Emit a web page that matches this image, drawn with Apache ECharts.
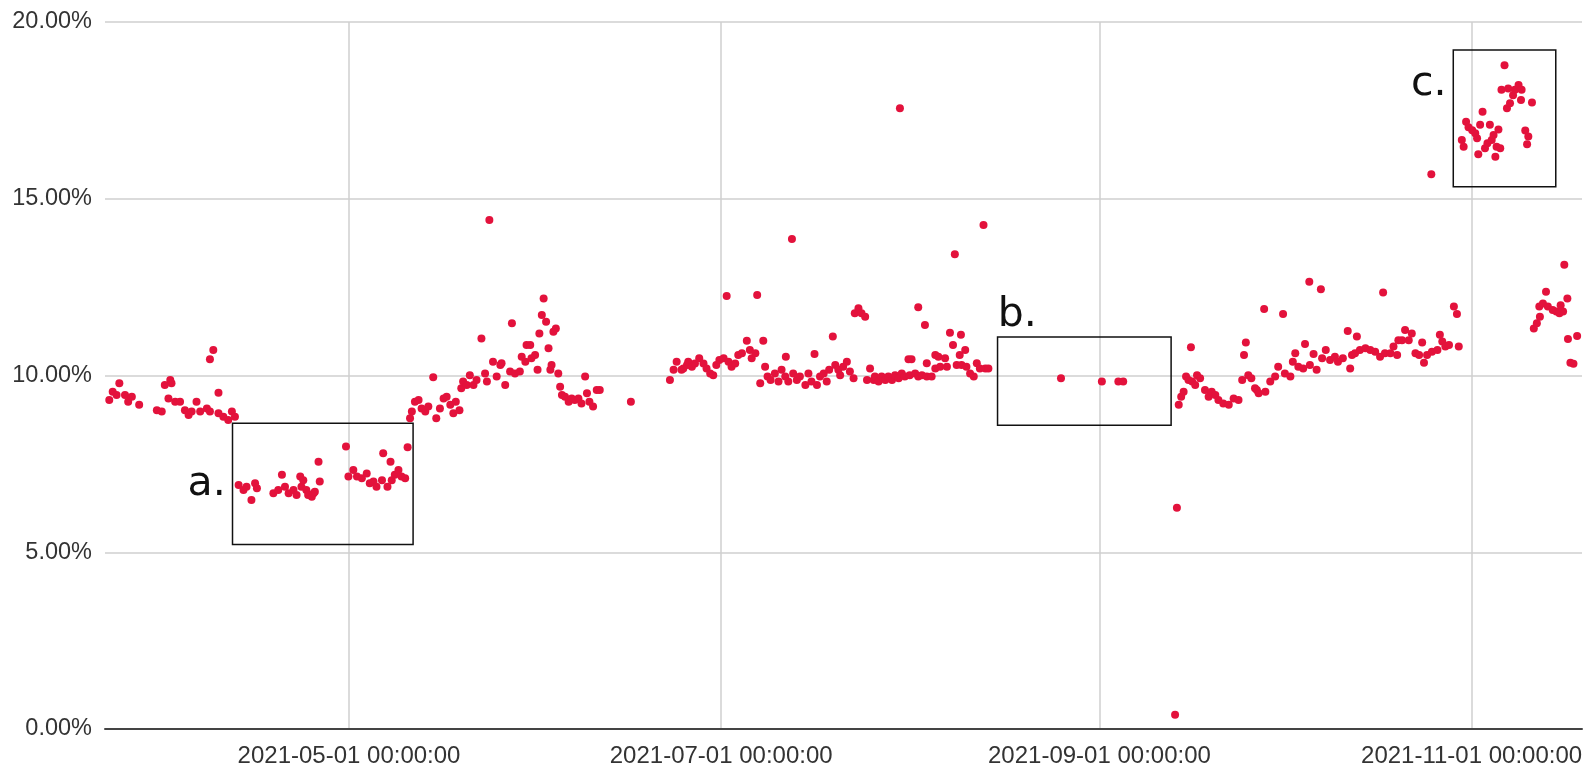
<!DOCTYPE html>
<html>
<head>
<meta charset="utf-8">
<script src="https://cdn.jsdelivr.net/npm/echarts/dist/echarts.min.js"></script>
<style>html,body{margin:0;padding:0;background:#fff;}#c{width:1584px;height:764px;}</style>
</head>
<body>
<div id="c"></div>
<script>
// Observations: day offset from 2021-03-22 00:00, and rate in %
const startDate = [2021, 2, 22];
const obsDays = [
0.7,1.26,1.9,2.35,3.28,3.8,4.4,5.6,8.5,9.3,9.8,10.4,10.7,10.9,11.5,12.3,13.1,13.7,14.2,15.0,15.6,16.7,17.2,17.2,17.75,18.6,18.6,19.4,20.2,20.8,21.3,
21.9,22.7,23.2,24.0,24.6,24.9,27.6,28.4,29.0,29.5,30.1,30.9,31.4,32.0,32.2,
32.5,33.0,33.3,33.9,34.2,34.4,35.0,35.2,39.5,39.9,40.7,41.3,42.1,42.9,43.4,44.0,44.5,45.4,45.6,46.3,46.8,47.0,47.5,48.1,48.6,49.2,49.6,
50.0,50.3,50.8,51.4,51.9,52.5,53.0,53.8,54.3,54.9,55.5,56.0,56.6,57.1,57.5,58.1,58.4,58.7,59.3,59.8,60.4,60.9,61.7,62.3,62.6,63.0,63.6,64.2,64.8,
65.0,65.6,66.4,66.7,67.2,68.0,68.3,68.9,69.1,69.7,69.9,70.5,70.9,71.2,71.6,71.9,72.3,72.7,73.0,73.2,73.5,73.9,74.3,74.6,74.9,75.4,76.0,76.5,77.0,77.6,78.1,78.7,79.0,79.4,80.0,80.6,81.1,86.2,92.6,93.2,93.7,
94.5,94.8,95.4,95.6,96.2,96.7,97.4,98.1,98.6,99.2,99.7,100.2,100.7,101.4,101.9,102.2,102.7,103.3,103.8,104.4,105.2,105.7,106.0,106.6,106.9,107.4,107.9,108.2,108.6,109.1,109.8,110.4,110.9,111.5,111.6,112.0,112.6,112.8,113.4,113.9,114.8,115.3,115.8,116.3,116.7,117.2,117.8,118.3,118.7,119.3,119.7,120.2,120.5,121.0,121.6,122.1,122.7,122.9,123.5,124.0,124.6,124.9,125.4,
126.0,126.2,126.8,127.3,127.9,128.4,129.0,129.5,130.1,130.3,130.6,131.1,131.7,131.9,132.2,132.8,133.3,133.3,133.9,134.4,134.7,134.7,135.5,136.1,136.1,136.6,136.9,137.7,138.0,138.5,139.0,139.3,139.6,140.1,140.3,140.4,141.0,141.2,141.8,142.4,142.9,143.4,144.0,144.3,144.8,
156.7,163.4,166.1,166.9,
175.4,175.7,176.0,176.4,176.8,177.2,177.6,178.0,178.2,178.7,179.0,179.5,180.3,180.9,181.4,182.0,182.5,183.3,184.2,185.0,185.8,186.4,186.7,187.0,187.4,187.9,
188.5,188.8,189.1,190.0,190.2,191.0,191.8,192.3,193.1,193.4,194.3,194.7,195.1,195.6,196.4,196.7,197.4,197.5,198.1,198.6,199.3,199.5,200.1,200.8,201.6,202.1,202.9,203.7,204.1,204.4,204.9,205.2,205.7,206.6,207.4,208.2,209.0,209.5,209.8,210.7,211.2,211.8,212.0,
212.6,213.1,213.7,214.2,214.8,215.4,215.9,216.2,216.7,217.4,217.5,218.4,218.8,219.2,219.7,220.3,221.1,221.6,221.9,
222.4,222.7,223.1,223.5,224.1,224.6,224.9,225.1,225.4,225.8,226.2,226.6,227.0,227.3,227.6,227.9,228.1,228.4,228.7,228.9,229.4,229.8,230.0,230.3,230.8,231.1,231.7,232.1,232.2,232.8,233.1,233.3,233.9,
234.2,234.7,235.1,235.2,235.7,236.2,236.5,237.3,237.9,238.4,238.6,239.0,239.2,239.7,239.8,240.2,240.7,241.3
];
const obsRates = [
9.31,9.54,9.45,9.78,9.45,9.26,9.40,9.17,9.02,8.98,9.73,9.35,9.87,9.78,9.26,9.26,9.02,8.88,8.98,9.26,8.98,9.07,8.98,10.46,10.72,9.51,8.93,8.83,8.74,8.98,8.83,
6.90,6.76,6.85,6.48,6.95,6.81,6.67,6.76,7.19,6.85,6.67,6.76,6.62,7.14,6.85,
7.04,6.76,6.62,6.57,6.67,6.71,7.56,7.00,7.99,7.14,7.33,7.14,7.09,7.23,6.95,7.00,6.85,7.04,7.80,6.85,7.56,7.04,7.19,7.33,7.14,7.09,7.97,
8.79,8.98,9.26,9.31,9.07,8.98,9.12,9.95,8.79,9.07,9.35,9.40,9.17,8.93,9.26,9.02,9.64,9.83,9.73,10.01,9.73,9.87,11.05,10.06,9.83,14.40,10.39,9.97,10.30,
10.35,9.73,10.11,11.48,10.06,10.11,10.53,10.39,10.86,10.86,10.49,10.58,10.16,11.19,11.71,12.18,11.52,10.77,10.16,10.30,11.24,11.33,10.06,9.68,9.45,9.40,9.26,9.35,9.31,9.35,9.21,9.97,9.50,9.26,9.12,9.59,9.59,9.26,9.87,10.16,10.39,
10.16,10.20,10.30,10.39,10.25,10.34,10.49,10.34,10.20,10.06,10.01,10.30,10.44,10.49,12.25,10.39,10.25,10.34,10.58,10.63,10.98,10.72,10.49,10.63,12.28,9.78,10.98,10.25,9.97,9.87,10.06,9.83,10.16,9.97,10.53,9.83,13.86,10.06,9.87,9.97,9.73,10.06,9.83,10.61,9.73,9.97,10.06,9.83,10.16,11.10,10.30,10.16,10.01,10.25,10.39,10.11,9.92,11.76,11.90,11.76,11.66,9.87,10.20,
9.87,9.97,9.83,9.97,9.87,9.97,9.87,10.01,9.92,17.56,10.06,9.97,10.46,10.01,10.46,10.06,11.93,9.97,10.01,11.43,10.35,9.97,9.97,10.58,10.20,10.53,10.25,10.49,10.25,11.21,10.86,13.43,10.30,10.58,11.15,10.30,10.72,10.25,10.06,9.97,10.35,10.20,14.26,10.20,10.20,
9.92,9.83,9.83,9.83,
0.40,6.26,9.17,9.40,9.54,9.97,9.87,10.80,9.83,9.73,10.01,9.92,9.59,9.40,9.54,9.45,9.31,9.21,9.17,9.35,9.31,9.87,10.58,10.93,10.01,9.92,
9.64,9.59,9.50,11.88,9.54,9.83,9.97,10.25,11.74,10.06,9.97,10.39,10.63,10.25,10.20,10.89,12.65,10.30,10.61,10.16,12.44,10.49,10.72,10.44,10.53,10.39,10.49,11.26,10.20,10.58,10.63,11.10,10.72,10.77,10.72,10.67,10.53,12.35,10.63,10.63,10.82,10.58,11.00,
11.00,11.29,11.00,11.19,10.63,10.58,10.93,10.36,10.58,15.69,10.67,10.72,11.15,10.96,10.82,10.86,11.95,11.74,10.82,
16.66,16.47,17.18,17.02,16.94,16.85,16.71,16.26,17.09,17.46,16.43,16.57,17.09,16.66,16.80,16.19,16.47,16.96,16.43,18.08,18.78,17.56,18.12,17.70,17.93,18.08,18.22,17.79,18.08,16.93,16.54,16.76,17.72,
11.33,11.48,11.95,11.66,12.04,12.37,11.95,11.85,11.81,11.76,11.99,11.81,13.13,12.18,11.03,10.36,10.33,11.12
];
// X axis tick dates and range (day offsets from start)
const tickDates = [[2021, 4, 1], [2021, 6, 1], [2021, 8, 1], [2021, 10, 1]];
const xRangeDays = [0, 242.1];
const yTicks = [0, 5, 10, 15, 20];
// Annotation boxes
const boxNames = ['a.', 'b.', 'c.'];
const boxDays = [[20.9, 50.5], [146.3, 174.75], [221.0, 237.8]];
const boxRates = [[5.22, 8.65], [8.59, 11.09], [15.34, 19.21]];

const DAY = 86400000;
const t0 = new Date(startDate[0], startDate[1], startDate[2]).getTime();
const toTime = d => t0 + d * DAY;
const points = obsDays.map((d, i) => [toTime(d), obsRates[i]]);
const tickValues = tickDates.map(a => new Date(a[0], a[1], a[2]).getTime());
const pad = n => String(n).padStart(2, '0');
const fmt = v => { const d = new Date(v); return d.getFullYear() + '-' + pad(d.getMonth() + 1) + '-' + pad(d.getDate()) + ' ' + pad(d.getHours()) + ':' + pad(d.getMinutes()) + ':' + pad(d.getSeconds()); };

const labelStyles = [
  { position: 'left', distance: 6, padding: [8, 0, 0, 0] },
  { position: [1, 0], align: 'left', verticalAlign: 'bottom' },
  { position: [-6, 35], align: 'right', verticalAlign: 'middle' }
];
const areaData = boxNames.map((n, i) => [
  { name: n, xAxis: toTime(boxDays[i][0]), yAxis: boxRates[i][1],
    label: Object.assign({ show: true, fontSize: 41, color: '#111', fontFamily: 'DejaVu Sans' }, labelStyles[i]) },
  { xAxis: toTime(boxDays[i][1]), yAxis: boxRates[i][0] }
]);

const chart = echarts.init(document.getElementById('c'), null, { renderer: 'canvas' });
chart.setOption({
  animation: false,
  backgroundColor: '#fff',
  grid: { left: 105, right: 2, top: 22, bottom: 35, containLabel: false, outerBoundsMode: 'none' },
  xAxis: {
    type: 'value',
    min: toTime(xRangeDays[0]),
    max: toTime(xRangeDays[1]),
    axisLine: { show: true, lineStyle: { color: '#444', width: 2 } },
    axisTick: { show: false, customValues: tickValues },
    axisLabel: { customValues: tickValues, formatter: fmt, fontSize: 24, color: '#333', margin: 15, fontFamily: 'Liberation Sans' },
    splitLine: { show: true, lineStyle: { color: '#cfcfcf', width: 1.5 } }
  },
  yAxis: {
    type: 'value',
    min: yTicks[0], max: yTicks[yTicks.length - 1], interval: yTicks[1] - yTicks[0],
    axisLine: { show: false },
    axisTick: { show: false },
    axisLabel: { formatter: v => v.toFixed(2) + '%', fontSize: 23.5, color: '#333', margin: 13, fontFamily: 'Liberation Sans' },
    splitLine: { show: true, lineStyle: { color: '#cfcfcf', width: 1.5 } }
  },
  series: [{
    type: 'scatter',
    data: points,
    symbolSize: 8,
    itemStyle: { color: '#e3123c', opacity: 1 },
    emphasis: { disabled: true },
    markArea: {
      silent: true,
      itemStyle: { color: 'rgba(0,0,0,0)', borderColor: '#111', borderWidth: 1.5 },
      data: areaData
    }
  }]
});
</script>
</body>
</html>
